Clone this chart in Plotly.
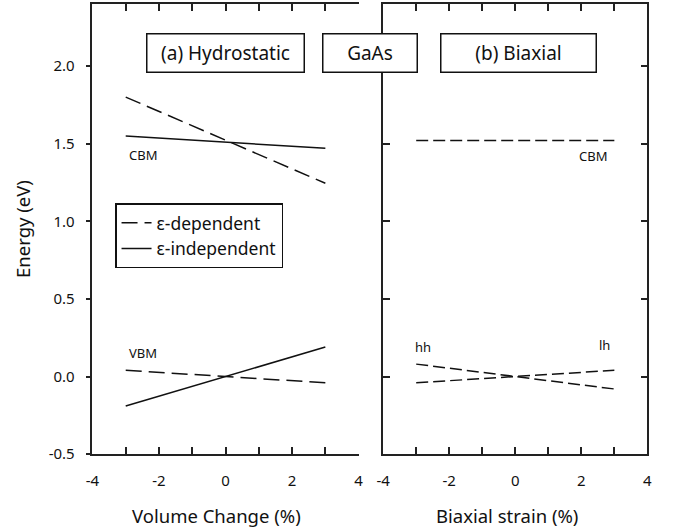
import plotly.graph_objects as go

# Strain grid (%) at which the band edges are evaluated
strain = [-3, 3]

# (a) Hydrostatic: band edges vs volume change (eV)
cbm_dep = [1.80, 1.245]
cbm_ind = [1.55, 1.47]
vbm_dep = [0.04, -0.04]
vbm_ind = [-0.19, 0.19]

# (b) Biaxial: band edges vs biaxial strain (eV)
cbm_biax = [1.52, 1.52]
hh_biax = [0.08, -0.08]
lh_biax = [-0.04, 0.04]

x_ticks = [-4, -3, -2, -1, 0, 1, 2, 3, 4]
x_ticktext = ["-4", "", "-2", "", "0", "", "2", "", "4"]
y_ticks = [-0.5, 0.0, 0.5, 1.0, 1.5, 2.0]
y_ticktext = ["-0.5", "0.0", "0.5", "1.0", "1.5", "2.0"]
y_range = [-0.5, 2.4]

FONT = "Noto Sans"
INK = "#111111"
AXIS = "#222222"
W, H = 673, 531

fig = go.Figure()

dash_a = "16px,7px"
dash_b = "12px,5px"

fig.add_trace(go.Scatter(x=strain, y=cbm_dep, mode="lines", name="ε-dependent",
                         legendgroup="dep", line=dict(color=INK, width=1.5, dash=dash_a),
                         xaxis="x", yaxis="y"))
fig.add_trace(go.Scatter(x=strain, y=cbm_ind, mode="lines", name="ε-independent",
                         legendgroup="ind", line=dict(color=INK, width=1.5),
                         xaxis="x", yaxis="y"))
fig.add_trace(go.Scatter(x=strain, y=vbm_dep, mode="lines", name="ε-dependent",
                         legendgroup="dep", showlegend=False,
                         line=dict(color=INK, width=1.5, dash=dash_a),
                         xaxis="x", yaxis="y"))
fig.add_trace(go.Scatter(x=strain, y=vbm_ind, mode="lines", name="ε-independent",
                         legendgroup="ind", showlegend=False,
                         line=dict(color=INK, width=1.5),
                         xaxis="x", yaxis="y"))

for vals in (cbm_biax, hh_biax, lh_biax):
    fig.add_trace(go.Scatter(x=strain, y=vals, mode="lines", showlegend=False,
                             line=dict(color=INK, width=1.5, dash=dash_b),
                             xaxis="x2", yaxis="y2"))

# panel domains (paper fraction)
xd1 = [87 / W, 358 / W]
xd2 = [383 / W, 652 / W]
yd = [1 - 462 / H, 1 - 4 / H]

axis_common = dict(showline=True, linecolor=AXIS, linewidth=1.6, showgrid=False,
                   zeroline=False, tickcolor=AXIS, tickwidth=1.5,
                   tickfont=dict(family=FONT, size=15, color=INK))

title_font = dict(family=FONT, size=18.5, color=INK)

fig.update_layout(
    width=W, height=H,
    margin=dict(l=0, r=0, t=0, b=0),
    paper_bgcolor="white", plot_bgcolor="white",
    font=dict(family=FONT, color=INK),
    showlegend=True,
    xaxis=dict(domain=xd1, anchor="y", range=[-4, 4], tickmode="array",
               tickvals=x_ticks, ticktext=x_ticktext, ticks="inside", ticklen=7,
               mirror="ticks", ticklabelstandoff=12, **axis_common),
    yaxis=dict(domain=yd, anchor="x", range=y_range, tickmode="array",
               tickvals=y_ticks, ticktext=y_ticktext, ticks="outside", ticklen=5,
               ticklabelstandoff=8,
               title=dict(text="Energy (eV)", font=title_font, standoff=13),
               **axis_common),
    yaxis3=dict(overlaying="y", anchor="x", side="right", range=y_range,
                tickmode="array", tickvals=y_ticks, ticks="inside", ticklen=7,
                showticklabels=False, **axis_common),
    xaxis2=dict(domain=xd2, anchor="y2", range=[-4, 4], tickmode="array",
                tickvals=x_ticks, ticktext=x_ticktext, ticks="inside", ticklen=7,
                mirror="ticks", ticklabelstandoff=12, **axis_common),
    yaxis2=dict(domain=yd, anchor="x2", range=y_range, tickmode="array",
                tickvals=y_ticks, ticks="inside", ticklen=7, mirror="ticks",
                showticklabels=False, **axis_common),
    legend=dict(x=110 / W, y=1 - 207 / H, xanchor="left", yanchor="top",
                bgcolor="white", bordercolor=INK, borderwidth=1.5,
                font=dict(family=FONT, size=17.5, color=INK),
                tracegroupgap=0, itemwidth=30),
)

# x-axis titles under each panel
for cx, txt in ((213, "Volume Change (%)"), (509, "Biaxial strain (%)")):
    fig.add_annotation(xref="paper", yref="paper", x=cx / W, y=1 - 524 / H,
                       xanchor="center", yanchor="middle", text=txt,
                       showarrow=False, font=title_font)

# framed panel titles
def boxed(text, x_left, x_right, y_top, y_bot):
    fig.add_annotation(
        xref="paper", yref="paper",
        x=(x_left + x_right) / 2 / W, y=1 - (y_top + y_bot) / 2 / H,
        xanchor="center", yanchor="middle",
        text=text, showarrow=False,
        width=x_right - x_left - 2, height=y_bot - y_top - 2,
        bgcolor="white", bordercolor=INK, borderwidth=1.5, borderpad=0,
        font=dict(family=FONT, size=19, color=INK),
    )

boxed("(a) Hydrostatic", 143, 301, 34, 73)
boxed("GaAs", 322, 417, 34, 73)
boxed("(b) Biaxial", 443, 599, 34, 73)

# band-edge labels
labels = [
    ("x", "y", -2.48, 1.43, "CBM"),
    ("x", "y", -2.48, 0.15, "VBM"),
    ("x2", "y2", 2.36, 1.42, "CBM"),
    ("x2", "y2", -2.78, 0.19, "hh"),
    ("x2", "y2", 2.69, 0.20, "lh"),
]
for xr, yr, xv, yv, txt in labels:
    fig.add_annotation(xref=xr, yref=yr, x=xv, y=yv, text=txt, showarrow=False,
                       font=dict(family=FONT, size=13, color=INK))

fig.write_html("out.html")
